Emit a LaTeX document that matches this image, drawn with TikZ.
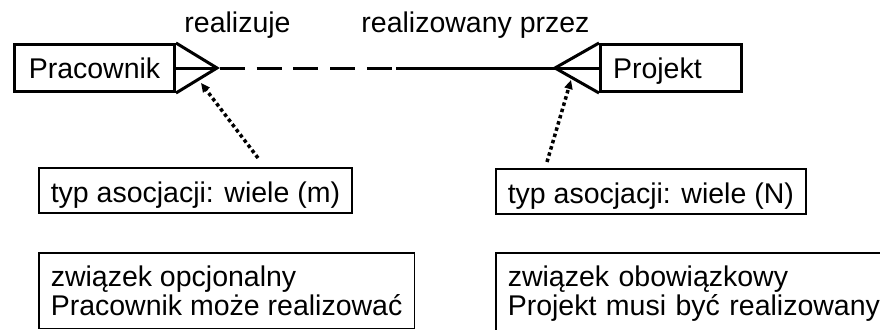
\documentclass[tikz,border=0pt]{standalone}
\usepackage{fontspec}
\setmainfont{Liberation Sans}
\usetikzlibrary{arrows.meta,calc}

\begin{document}
\begin{tikzpicture}[x=1pt,y=-1pt,
  font=\fontsize{28.5}{29}\selectfont,
  encja/.style={draw,line width=3pt,minimum width=160pt,minimum height=47pt,inner sep=0pt,text height=25pt,text depth=5pt},
  opis/.style={draw,line width=1.5pt,anchor=north west,inner xsep=12pt},
  typ/.style={opis,minimum height=45pt,inner ysep=4pt,text height=28pt,text depth=4pt},
  rel/.style={line width=3pt},
  wskaz/.style={line width=3.5pt,dash pattern=on 3.5pt off 3pt,-{Triangle[length=9pt,width=8pt]}}]
  \clip (0,0) rectangle (880,329);
  % encje
  \node[encja] (prac) at (94.5,68) {Pracownik};
  \node[encja,minimum width=141pt,text width=116pt,align=left] (proj) at (671,68) {Projekt};
  % zwiazek
  \coordinate (apexL) at ([xshift=41pt]prac.east);
  \coordinate (apexR) at ([xshift=-44pt]proj.west);
  \coordinate (mid) at ($(apexL)!0.53!(apexR)$);
  \draw[rel] (prac.north east) -- (apexL) -- (prac.south east);
  \draw[rel] (prac.east) -- (apexL);
  \draw[rel] (proj.north west) -- (apexR) -- (proj.south west);
  \draw[rel] (proj.west) -- (apexR);
  \draw[rel,dash pattern=on 25pt off 11.7pt,dash phase=33.7pt] (apexL) -- (mid);
  \draw[rel] (mid) -- (apexR);
  \node[anchor=base] (realL) at (237.5,33) {realizuje};
  \node[anchor=base] (realR) at (475.5,33) {realizowany przez};
  % opisy
  \node[typ,minimum width=310pt] (typL) at (38,167) {typ asocjacji: wiele (m)};
  \node[typ,minimum width=307pt] (typR) at (495,168) {typ asocjacji: wiele (N)};
  \node[opis,align=left,inner ysep=13pt] (zwL) at (38,252)
    {związek opcjonalny\\Pracownik może realizować};
  \node[opis,text width=400pt,align=left,inner ysep=13pt] (zwR) at (495,252)
    {związek obowiązkowy\\Projekt musi być realizowany};
  \coordinate (tailL) at (258,158);
  \coordinate (tipL) at (201,83);
  \coordinate (tailR) at (547,162);
  \coordinate (tipR) at (571,80);
  \draw[wskaz] (tailL) -- (tipL);
  \draw[wskaz] (tailR) -- (tipR);
\end{tikzpicture}
\end{document}
